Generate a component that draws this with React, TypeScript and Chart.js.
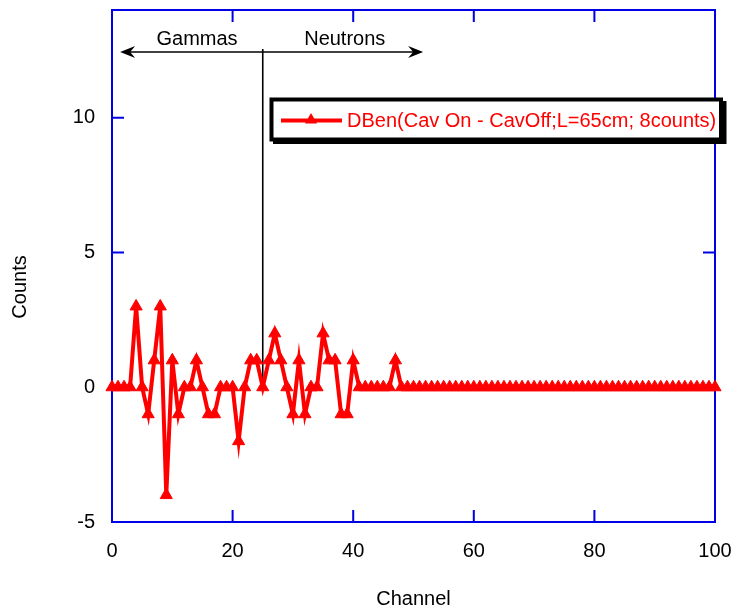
import React, { useEffect, useRef } from "react";
import { Chart, registerables } from "chart.js";

Chart.register(...registerables);

// ---- data ----
const counts: number[] = [
  0, 0, 0, 0, 3, 0, -1, 1, 3, -4,
  1, -1, 0, 0, 1, 0, -1, -1, 0, 0,
  0, -2, 0, 1, 1, 0, 1, 2, 1, 0,
  -1, 1, -1, 0, 0, 2, 1, 1, -1, -1,
  1, 0, 0, 0, 0, 0, 0, 1, 0, 0,
  0, 0, 0, 0, 0, 0, 0, 0, 0, 0,
  0, 0, 0, 0, 0, 0, 0, 0, 0, 0,
  0, 0, 0, 0, 0, 0, 0, 0, 0, 0,
  0, 0, 0, 0, 0, 0, 0, 0, 0, 0,
  0, 0, 0, 0, 0, 0, 0, 0, 0, 0,
  0,
];
const xTicks: number[] = [0, 20, 40, 60, 80, 100];
const yTicks: number[] = [-5, 0, 5, 10];
const seriesLabel = "DBen(Cav On - CavOff;L=65cm; 8counts)";
const xTitle = "Channel";
const yTitle = "Counts";
const regionLabels: string[] = ["Gammas", "Neutrons"];

// annotation geometry in data units
const dividerChannel = 25;
const dividerTop = 12.55;
const arrowY = 12.44;
const arrowFrom = 1.35;
const arrowTo = 51.6;
const labelChannels: number[] = [14.1, 38.6];
const labelY = 12.92;

const BLUE = "rgb(0,0,230)";
const RED = "rgb(255,0,0)";
const FONT = "Arial, 'Liberation Sans', sans-serif";

function arrowHead(ctx: CanvasRenderingContext2D, tipX: number, y: number, dir: number) {
  const len = 15, half = 6, notch = 10;
  ctx.beginPath();
  ctx.moveTo(tipX, y);
  ctx.lineTo(tipX + dir * len, y - half);
  ctx.lineTo(tipX + dir * notch, y);
  ctx.lineTo(tipX + dir * len, y + half);
  ctx.closePath();
  ctx.fill();
}

function drawTriangle(ctx: CanvasRenderingContext2D, cx: number, cy: number, r: number) {
  const a = Math.PI / 2;
  ctx.beginPath();
  for (let i = 0; i < 3; i++) {
    const ang = -a + (i * 2 * Math.PI) / 3;
    const px = cx + Math.cos(ang) * r;
    const py = cy + Math.sin(ang) * r;
    if (i === 0) ctx.moveTo(px, py);
    else ctx.lineTo(px, py);
  }
  ctx.closePath();
  ctx.fill();
}

const decorPlugin = {
  id: "decor",
  beforeDatasetsDraw(chart: any) {
    const { ctx, chartArea: a, scales } = chart;
    const x = scales.x, y = scales.y;
    ctx.save();
    // frame
    ctx.strokeStyle = BLUE;
    ctx.lineWidth = 2;
    ctx.strokeRect(a.left, a.top, a.right - a.left, a.bottom - a.top);
    // inward ticks on all sides
    ctx.beginPath();
    xTicks.forEach((v) => {
      const px = x.getPixelForValue(v);
      ctx.moveTo(px, a.bottom);
      ctx.lineTo(px, a.bottom - 12);
      ctx.moveTo(px, a.top);
      ctx.lineTo(px, a.top + 12);
    });
    yTicks.forEach((v) => {
      const py = y.getPixelForValue(v);
      ctx.moveTo(a.left, py);
      ctx.lineTo(a.left + 12, py);
      ctx.moveTo(a.right, py);
      ctx.lineTo(a.right - 12, py);
    });
    ctx.stroke();

    // divider + arrow
    ctx.strokeStyle = "#000";
    ctx.fillStyle = "#000";
    ctx.lineWidth = 1.6;
    const dx = x.getPixelForValue(dividerChannel);
    ctx.beginPath();
    ctx.moveTo(dx, y.getPixelForValue(0));
    ctx.lineTo(dx, y.getPixelForValue(dividerTop));
    ctx.stroke();
    const ay = y.getPixelForValue(arrowY);
    const ax0 = x.getPixelForValue(arrowFrom);
    const ax1 = x.getPixelForValue(arrowTo);
    ctx.beginPath();
    ctx.moveTo(ax0 + 8, ay);
    ctx.lineTo(ax1 - 8, ay);
    ctx.stroke();
    arrowHead(ctx, ax0, ay, 1);
    arrowHead(ctx, ax1, ay, -1);

    ctx.font = `20px ${FONT}`;
    ctx.textAlign = "center";
    ctx.textBaseline = "middle";
    regionLabels.forEach((t, i) => {
      ctx.fillText(t, x.getPixelForValue(labelChannels[i]), y.getPixelForValue(labelY));
    });

    // axis titles
    ctx.fillText(xTitle, (a.left + a.right) / 2, 599);
    ctx.save();
    ctx.translate(20, 287);
    ctx.rotate(-Math.PI / 2);
    ctx.fillText(yTitle, 0, 0);
    ctx.restore();
    ctx.restore();
  },
  afterDraw(chart: any) {
    const { ctx } = chart;
    ctx.save();
    // legend box with shadow
    ctx.fillStyle = "#000";
    ctx.fillRect(273, 101, 453.5, 43);
    ctx.fillStyle = "#fff";
    ctx.fillRect(271.5, 99.5, 449.5, 40);
    ctx.strokeStyle = "#000";
    ctx.lineWidth = 4;
    ctx.strokeRect(271.5, 99.5, 449.5, 40);
    // sample
    ctx.strokeStyle = RED;
    ctx.fillStyle = RED;
    ctx.lineWidth = 4;
    ctx.beginPath();
    ctx.moveTo(281, 120.5);
    ctx.lineTo(342, 120.5);
    ctx.stroke();
    drawTriangle(ctx, 311, 120, 7);
    ctx.font = `20px ${FONT}`;
    ctx.textAlign = "left";
    ctx.textBaseline = "middle";
    ctx.fillText(seriesLabel, 347, 121);
    ctx.restore();
  },
};

export default function App() {
  const ref = useRef<HTMLCanvasElement | null>(null);
  useEffect(() => {
    if (!ref.current) return;
    const chart = new Chart(ref.current, {
      type: "line",
      data: {
        datasets: [
          {
            label: seriesLabel,
            data: counts.map((v, i) => ({ x: i, y: v })),
            borderColor: RED,
            backgroundColor: RED,
            borderWidth: 4,
            pointStyle: "triangle",
            pointRadius: 7,
            pointBorderWidth: 1,
            pointBackgroundColor: RED,
            pointBorderColor: RED,
            tension: 0,
            clip: false as any,
          },
        ],
      },
      options: {
        animation: false,
        responsive: false,
        events: [],
        layout: { padding: { top: 10, right: 20, left: 0, bottom: 0 }, autoPadding: false },
        plugins: { legend: { display: false }, tooltip: { enabled: false } },
        scales: {
          x: {
            type: "linear",
            min: 0,
            max: 100,
            afterBuildTicks: (s: any) => {
              s.ticks = xTicks.map((v) => ({ value: v }));
            },
            afterFit: (s: any) => {
              s.height = 90;
              s.paddingLeft = 0;
              s.paddingRight = 0;
            },
            grid: { display: false, drawTicks: false },
            border: { display: false },
            ticks: {
              color: "#000",
              font: { family: FONT, size: 20 },
              padding: 17,
              maxRotation: 0,
              autoSkip: false,
            },
          },
          y: {
            type: "linear",
            min: -5,
            max: 14,
            afterBuildTicks: (s: any) => {
              s.ticks = yTicks.map((v) => ({ value: v }));
            },
            afterFit: (s: any) => {
              s.width = 112;
              s.paddingTop = 0;
              s.paddingBottom = 0;
            },
            grid: { display: false, drawTicks: false },
            border: { display: false },
            ticks: {
              color: "#000",
              font: { family: FONT, size: 20 },
              padding: 17,
              autoSkip: false,
            },
          },
        },
      },
      plugins: [decorPlugin],
    } as any);
    return () => chart.destroy();
  }, []);
  return (
    <div style={{ position: "fixed", left: 0, top: 0, width: 735, height: 612, background: "#fff" }}>
      <canvas ref={ref} width={735} height={612} style={{ width: 735, height: 612, display: "block" }} />
    </div>
  );
}
